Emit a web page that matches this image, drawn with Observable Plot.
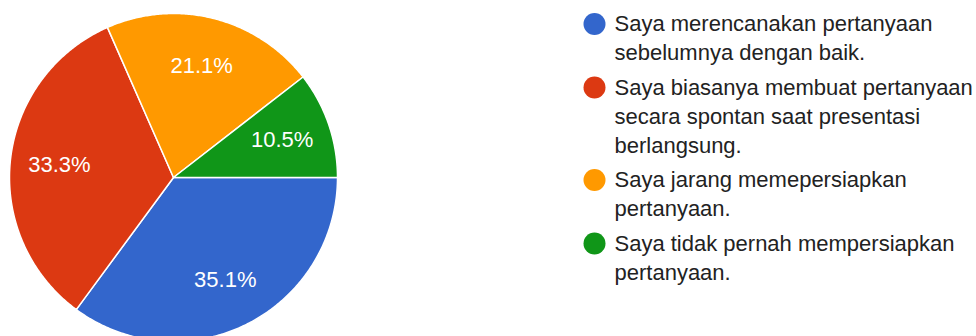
<!DOCTYPE html>
<html>
<head>
<meta charset="utf-8">
<script src="https://cdn.jsdelivr.net/npm/d3@7"></script>
<script src="https://cdn.jsdelivr.net/npm/@observablehq/plot@0.6"></script>
<style>
  html, body { margin: 0; padding: 0; background: #fff; }
</style>
</head>
<body>
<div id="chart"></div>
<script>
// ---- data ----
const categories = [
  "Saya merencanakan pertanyaan sebelumnya dengan baik.",
  "Saya biasanya membuat pertanyaan secara spontan saat presentasi berlangsung.",
  "Saya jarang memepersiapkan pertanyaan.",
  "Saya tidak pernah mempersiapkan pertanyaan."
];
const legendLabels = [
  "Saya merencanakan pertanyaan\nsebelumnya dengan baik.",
  "Saya biasanya membuat pertanyaan\nsecara spontan saat presentasi\nberlangsung.",
  "Saya jarang memepersiapkan\npertanyaan.",
  "Saya tidak pernah mempersiapkan\npertanyaan."
];
const values = [35.1, 33.3, 21.1, 10.5];
const colors = ["#3366cc", "#dc3912", "#ff9900", "#109618"];

// ---- layout ----
const W = 976, H = 336;
const cx = 173, cy = 177, R = 164, labelR = 0.7 * R;
const legendDotX = 594, legendTextX = 614, legendTop = 23.5, lineH = 29, itemGap = 34.5;

// ---- pie geometry from data ----
const arcs = d3.pie().sort(null).startAngle(Math.PI / 2).endAngle(Math.PI / 2 + 2 * Math.PI)(values);
const slicePts = [];
const sliceLabels = [];
arcs.forEach((a, i) => {
  const cat = categories[i];
  slicePts.push({cat, x: cx, y: cy});
  const span = a.endAngle - a.startAngle;
  const n = Math.max(2, Math.ceil(span / (Math.PI / 360)));
  for (let k = 0; k <= n; k++) {
    const t = a.startAngle + span * k / n;
    slicePts.push({cat, x: cx + R * Math.sin(t), y: cy - R * Math.cos(t)});
  }
  const mid = (a.startAngle + a.endAngle) / 2;
  sliceLabels.push({cat, x: cx + labelR * Math.sin(mid), y: cy - labelR * Math.cos(mid), text: values[i].toFixed(1) + "%"});
});

// ---- legend from data ----
const legendDots = [];
const legendText = [];
let yy = legendTop;
legendLabels.forEach((lab, i) => {
  const lines = lab.split("\n");
  legendDots.push({cat: categories[i], x: legendDotX, y: yy});
  lines.forEach((ln, j) => legendText.push({x: legendTextX, y: yy + j * lineH, text: ln}));
  yy += (lines.length - 1) * lineH + itemGap;
});

const chart = Plot.plot({
  width: W,
  height: H,
  margin: 0,
  x: {domain: [0, W], range: [0, W], axis: null},
  y: {domain: [0, H], range: [0, H], axis: null},
  color: {domain: categories, range: colors},
  style: {fontFamily: "'Liberation Sans', Arial, sans-serif", background: "#fff"},
  marks: [
    Plot.line(slicePts, {x: "x", y: "y", z: "cat", fill: "cat", stroke: "#fff", strokeWidth: 1.5, curve: "linear-closed", strokeLinejoin: "round"}),
    Plot.text(sliceLabels, {x: "x", y: "y", text: "text", fill: "#fff", fontSize: 22}),
    Plot.dot(legendDots, {x: "x", y: "y", fill: "cat", r: 11, stroke: null}),
    Plot.text(legendText, {x: "x", y: "y", text: "text", textAnchor: "start", fill: "#222", fontSize: 22})
  ]
});
document.getElementById("chart").appendChild(chart);
</script>
</body>
</html>
